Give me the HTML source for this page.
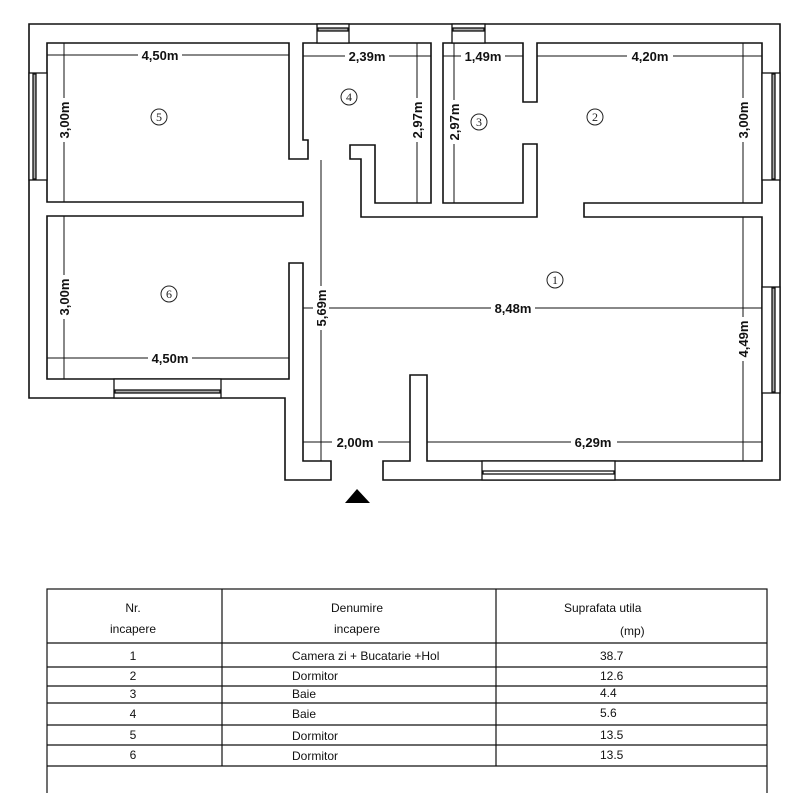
<!DOCTYPE html>
<html><head><meta charset="utf-8"><style>
html,body{margin:0;padding:0;background:#fff;width:800px;height:793px;overflow:hidden}
svg{display:block}
.d{font-family:"Liberation Sans",sans-serif;font-weight:bold;font-size:13px;fill:#111}
.c{font-family:"Liberation Serif",serif;font-size:12px;fill:#222}
.t{font-family:"Liberation Sans",sans-serif;font-size:12px;fill:#111}
</style></head><body>
<svg width="800" height="793" viewBox="0 0 800 793" xmlns="http://www.w3.org/2000/svg">
<path d="M383,480 L780,480 L780,24 L29,24 L29,398 L285,398 L285,480 L331,480 L331,461 L303,461 L303,263 L289,263 L289,379 L47,379 L47,216 L303,216 L303,202 L47,202 L47,43 L289,43 L289,159 L308,159 L308,140 L303,140 L303,43 L431,43 L431,203 L375,203 L375,145 L350,145 L350,159 L361,159 L361,217 L537,217 L537,144 L523,144 L523,203 L443,203 L443,43 L523,43 L523,102 L537,102 L537,43 L762,43 L762,203 L584,203 L584,217 L762,217 L762,461 L427,461 L427,375 L410,375 L410,461 L383,461 Z" fill="none" stroke="#111" stroke-width="1.6"/>
<g fill="#fff" stroke="#111" stroke-width="1.3">
<rect x="317" y="24" width="32" height="19"/><rect x="318" y="28" width="30" height="3" fill="#aaa"/>
<rect x="452" y="24" width="33" height="19"/><rect x="453" y="28" width="31" height="3" fill="#aaa"/>
<rect x="29" y="73" width="18" height="107"/><rect x="33" y="74" width="3" height="105" fill="#aaa"/>
<rect x="762" y="73" width="18" height="107"/><rect x="772" y="74" width="3" height="105" fill="#aaa"/>
<rect x="762" y="287" width="18" height="106"/><rect x="772" y="288" width="3" height="104" fill="#aaa"/>
<rect x="114" y="379" width="107" height="19"/><rect x="115" y="390" width="105" height="3" fill="#aaa"/>
<rect x="482" y="461" width="133" height="19"/><rect x="483" y="471" width="131" height="3" fill="#fff"/>
</g>
<g stroke="#111" stroke-width="1">
<line x1="47" y1="55" x2="289" y2="55"/>
<line x1="64" y1="43" x2="64" y2="202"/>
<line x1="303" y1="56" x2="431" y2="56"/>
<line x1="417" y1="43" x2="417" y2="203"/>
<line x1="454" y1="43" x2="454" y2="203"/>
<line x1="443" y1="56" x2="523" y2="56"/>
<line x1="537" y1="56" x2="762" y2="56"/>
<line x1="743" y1="43" x2="743" y2="203"/>
<line x1="321" y1="160" x2="321" y2="461"/>
<line x1="303" y1="308" x2="762" y2="308"/>
<line x1="64" y1="216" x2="64" y2="379"/>
<line x1="47" y1="358" x2="289" y2="358"/>
<line x1="743" y1="217" x2="743" y2="461"/>
<line x1="303" y1="442" x2="410" y2="442"/>
<line x1="427" y1="442" x2="762" y2="442"/>
</g>
<g class="d">
<rect x="138" y="47" width="44" height="16" fill="#fff"/><text x="160" y="60" text-anchor="middle">4,50m</text>
<rect x="345" y="48" width="44" height="16" fill="#fff"/><text x="367" y="61" text-anchor="middle">2,39m</text>
<rect x="461" y="48" width="44" height="16" fill="#fff"/><text x="483" y="61" text-anchor="middle">1,49m</text>
<rect x="627" y="48" width="46" height="16" fill="#fff"/><text x="650" y="61" text-anchor="middle">4,20m</text>
<rect x="491" y="300" width="44" height="16" fill="#fff"/><text x="513" y="313" text-anchor="middle">8,48m</text>
<rect x="148" y="350" width="44" height="16" fill="#fff"/><text x="170" y="363" text-anchor="middle">4,50m</text>
<rect x="332" y="434" width="46" height="16" fill="#fff"/><text x="355" y="447" text-anchor="middle">2,00m</text>
<rect x="571" y="434" width="46" height="16" fill="#fff"/><text x="593" y="447" text-anchor="middle">6,29m</text>
<g transform="translate(69,120) rotate(-90)"><rect x="-22" y="-13" width="44" height="16" fill="#fff"/><text x="0" y="0" text-anchor="middle">3,00m</text></g>
<g transform="translate(422,120) rotate(-90)"><rect x="-22" y="-13" width="44" height="16" fill="#fff"/><text x="0" y="0" text-anchor="middle">2,97m</text></g>
<g transform="translate(459,122) rotate(-90)"><rect x="-22" y="-13" width="44" height="16" fill="#fff"/><text x="0" y="0" text-anchor="middle">2,97m</text></g>
<g transform="translate(748,120) rotate(-90)"><rect x="-22" y="-13" width="44" height="16" fill="#fff"/><text x="0" y="0" text-anchor="middle">3,00m</text></g>
<g transform="translate(69,297) rotate(-90)"><rect x="-22" y="-13" width="44" height="16" fill="#fff"/><text x="0" y="0" text-anchor="middle">3,00m</text></g>
<g transform="translate(326,308) rotate(-90)"><rect x="-22" y="-13" width="44" height="16" fill="#fff"/><text x="0" y="0" text-anchor="middle">5,69m</text></g>
<g transform="translate(748,339) rotate(-90)"><rect x="-22" y="-13" width="44" height="16" fill="#fff"/><text x="0" y="0" text-anchor="middle">4,49m</text></g>
</g>
<g fill="none" stroke="#222" stroke-width="1">
<circle cx="159" cy="117" r="8"/><circle cx="349" cy="97" r="8"/><circle cx="479" cy="122" r="8"/>
<circle cx="595" cy="117" r="8"/><circle cx="169" cy="294" r="8"/><circle cx="555" cy="280" r="8"/>
</g>
<g class="c" text-anchor="middle">
<text x="159" y="121">5</text><text x="349" y="101">4</text><text x="479" y="126">3</text>
<text x="595" y="121">2</text><text x="169" y="298">6</text><text x="555" y="284">1</text>
</g>
<polygon points="357,489 345,503 370,503" fill="#000"/>
<g stroke="#111" stroke-width="1.2" fill="none">
<rect x="47" y="589" width="720" height="210"/>
<line x1="222" y1="589" x2="222" y2="766"/>
<line x1="496" y1="589" x2="496" y2="766"/>
<line x1="47" y1="643" x2="767" y2="643"/>
<line x1="47" y1="667" x2="767" y2="667"/>
<line x1="47" y1="686" x2="767" y2="686"/>
<line x1="47" y1="703" x2="767" y2="703"/>
<line x1="47" y1="725" x2="767" y2="725"/>
<line x1="47" y1="745" x2="767" y2="745"/>
<line x1="47" y1="766" x2="767" y2="766"/>
</g>
<g class="t">
<text x="133" y="612" text-anchor="middle">Nr.</text>
<text x="133" y="633" text-anchor="middle">incapere</text>
<text x="357" y="612" text-anchor="middle">Denumire</text>
<text x="357" y="633" text-anchor="middle">incapere</text>
<text x="564" y="612">Suprafata utila</text>
<text x="620" y="635">(mp)</text>
<text x="133" y="660" text-anchor="middle">1</text><text x="292" y="660">Camera zi + Bucatarie +Hol</text><text x="600" y="660">38.7</text>
<text x="133" y="680" text-anchor="middle">2</text><text x="292" y="680">Dormitor</text><text x="600" y="680">12.6</text>
<text x="133" y="698" text-anchor="middle">3</text><text x="292" y="698">Baie</text><text x="600" y="697">4.4</text>
<text x="133" y="718" text-anchor="middle">4</text><text x="292" y="718">Baie</text><text x="600" y="717">5.6</text>
<text x="133" y="739" text-anchor="middle">5</text><text x="292" y="740">Dormitor</text><text x="600" y="739">13.5</text>
<text x="133" y="759" text-anchor="middle">6</text><text x="292" y="760">Dormitor</text><text x="600" y="759">13.5</text>
</g>
</svg>
</body></html>
